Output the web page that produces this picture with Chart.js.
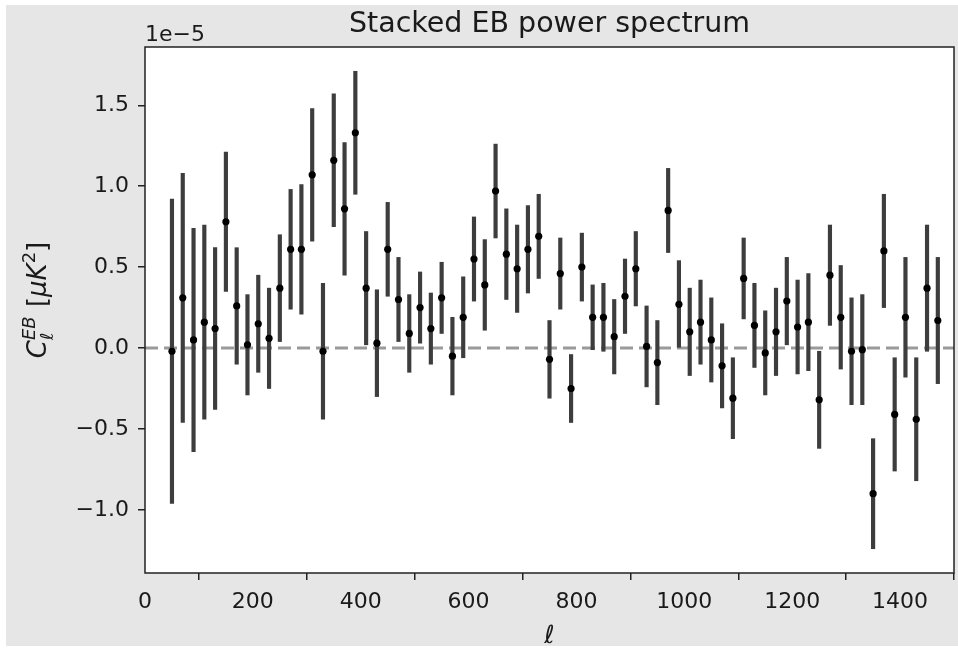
<!DOCTYPE html>
<html>
<head>
<meta charset="utf-8">
<script src="https://cdn.jsdelivr.net/npm/chart.js@4.4.1/dist/chart.umd.min.js"></script>
<style>
  html, body { margin: 0; padding: 0; background: #fff; }
  canvas { display: block; }
</style>
</head>
<body>
<canvas id="ebChart" width="958" height="651" style="width:958px;height:651px"></canvas>
<script>
// multipole bin centres
const ell = [
  50, 70, 90, 110, 130, 150, 170, 190, 210, 230, 250, 270,
  290, 310, 330, 350, 370, 390, 410, 430, 450, 470, 490, 510,
  530, 550, 570, 590, 610, 630, 650, 670, 690, 710, 730, 750,
  770, 790, 810, 830, 850, 870, 890, 910, 930, 950, 970, 990,
  1010, 1030, 1050, 1070, 1090, 1110, 1130, 1150, 1170, 1190, 1210, 1230,
  1250, 1270, 1290, 1310, 1330, 1350, 1370, 1390, 1410, 1430, 1450, 1470
];
// stacked C_l^EB, in units of 1e-5 muK^2
const clEB = [
  -0.02, 0.31, 0.05, 0.16, 0.12, 0.78, 0.26, 0.02, 0.15, 0.06, 0.37, 0.61,
  0.61, 1.07, -0.02, 1.16, 0.86, 1.33, 0.37, 0.03, 0.61, 0.30, 0.09, 0.25,
  0.12, 0.31, -0.05, 0.19, 0.55, 0.39, 0.97, 0.58, 0.49, 0.61, 0.69, -0.07,
  0.46, -0.25, 0.50, 0.19, 0.19, 0.07, 0.32, 0.49, 0.01, -0.09, 0.85, 0.27,
  0.10, 0.16, 0.05, -0.11, -0.31, 0.43, 0.14, -0.03, 0.10, 0.29, 0.13, 0.16,
  -0.32, 0.45, 0.19, -0.02, -0.01, -0.90, 0.60, -0.41, 0.19, -0.44, 0.37, 0.17
];
// 1-sigma errors, same units
const clErr = [
  0.94, 0.77, 0.69, 0.60, 0.50, 0.43, 0.36, 0.31, 0.30, 0.31, 0.33, 0.37,
  0.40, 0.41, 0.42, 0.41, 0.41, 0.38, 0.35, 0.33, 0.29, 0.26, 0.24, 0.22,
  0.22, 0.22, 0.24, 0.25, 0.26, 0.28, 0.29, 0.28, 0.27, 0.27, 0.26, 0.24,
  0.22, 0.21, 0.21, 0.20, 0.21, 0.23, 0.23, 0.23, 0.25, 0.26, 0.26, 0.27,
  0.27, 0.26, 0.26, 0.26, 0.25, 0.25, 0.26, 0.26, 0.27, 0.27, 0.29, 0.30,
  0.30, 0.31, 0.32, 0.33, 0.34, 0.34, 0.35, 0.35, 0.37, 0.38, 0.39, 0.39
];
const xTicks = [0, 200, 400, 600, 800, 1000, 1200, 1400];
const yTicks = [-1.0, -0.5, 0.0, 0.5, 1.0, 1.5];
const zeroLineX = [0, 1500];
const chartTitle = 'Stacked EB power spectrum';

const FONT = '"DejaVu Sans", sans-serif';
const TEXT = '#1a1a1a';

const fmtY = v => (v < 0 ? '\u2212' : '') + Math.abs(v).toFixed(1);

// grey figure face behind everything
const figBg = {
  id: 'figBg',
  beforeDraw(chart) {
    const c = chart.ctx;
    c.save();
    c.fillStyle = '#e6e6e6';
    c.fillRect(6, 5, chart.width - 6, 641);
    c.fillStyle = '#fff';
    const a = chart.chartArea;
    c.fillRect(a.left, a.top, a.right - a.left, a.bottom - a.top);
    c.restore();
  }
};

// axes frame, title, offset text, y label
const extras = {
  id: 'extras',
  afterDatasetsDraw(chart) {
    const c = chart.ctx, a = chart.chartArea;
    c.save();
    c.strokeStyle = '#222';
    c.lineWidth = 1.5;
    c.strokeRect(a.left, a.top, a.right - a.left, a.bottom - a.top);
    c.restore();
  },
  afterDraw(chart) {
    const c = chart.ctx, a = chart.chartArea;
    c.save();
    c.fillStyle = TEXT;

    c.font = '28.5px ' + FONT;
    c.textAlign = 'center';
    c.textBaseline = 'alphabetic';
    c.fillText(chartTitle, (a.left + a.right) / 2, 32);

    c.font = '22px ' + FONT;
    c.textAlign = 'left';
    c.fillText('1e\u22125', a.left, a.top - 6);

    // C_l^{EB} [muK^2], rotated
    const size = 26, small = 18;
    const it = s => 'italic ' + s + 'px ' + FONT;
    const up = s => s + 'px ' + FONT;
    const parts = [
      { t: 'C', f: it(size), dy: 0 },
      { t: 'EB', f: it(small), dy: -11, stack: { t: '\u2113', f: it(small), dy: 7 } },
      { t: ' [', f: up(size), dy: 0 },
      { t: '\u03bc', f: it(size), dy: 0 },
      { t: 'K', f: it(size), dy: 0 },
      { t: '2', f: up(small), dy: -11 },
      { t: ']', f: up(size), dy: 0 }
    ];
    let total = 0;
    parts.forEach(p => {
      c.font = p.f;
      let w = c.measureText(p.t).width;
      if (p.stack) { c.font = p.stack.f; w = Math.max(w, c.measureText(p.stack.t).width); }
      p.w = w + (p.t === 'EB' ? 1 : 0);
      total += p.w;
    });
    c.translate(37, (a.top + a.bottom) / 2 - 10);
    c.rotate(-Math.PI / 2);
    let x = -total / 2;
    const base = 9;
    parts.forEach(p => {
      c.font = p.f;
      c.fillText(p.t, x, base + p.dy);
      if (p.stack) { c.font = p.stack.f; c.fillText(p.stack.t, x, base + p.stack.dy); }
      x += p.w;
    });
    c.restore();
  }
};

const tickGrid = { drawOnChartArea: false, drawTicks: true, tickLength: 7, tickColor: '#222', lineWidth: 1.5 };

new Chart(document.getElementById('ebChart').getContext('2d'), {
  type: 'scatter',
  data: {
    datasets: [
      {
        label: 'EB',
        data: ell.map((l, i) => ({ x: l, y: clEB[i] })),
        backgroundColor: '#000',
        pointRadius: 3.6,
        pointBorderWidth: 0,
        order: 0
      },
      {
        type: 'bar',
        label: 'err',
        data: ell.map((l, i) => ({ x: l, y: [clEB[i] - clErr[i], clEB[i] + clErr[i]] })),
        backgroundColor: '#3d3d3d',
        borderWidth: 0,
        barThickness: 3.5,
        order: 1
      },
      {
        type: 'line',
        label: 'zero',
        data: zeroLineX.map(x => ({ x: x, y: 0 })),
        borderColor: '#9a9a9a',
        borderWidth: 3,
        borderDash: [13, 6],
        pointRadius: 0,
        fill: false,
        order: 2
      }
    ]
  },
  options: {
    responsive: false,
    animation: false,
    events: [],
    layout: { padding: { left: 0, right: 3, top: 47, bottom: 0 } },
    plugins: {
      legend: { display: false },
      tooltip: { enabled: false },
      title: { display: false }
    },
    scales: {
      x: {
        type: 'linear',
        min: 0,
        max: 1500,
        offset: false,
        afterBuildTicks: s => { s.ticks = xTicks.map(v => ({ value: v })); },
        afterFit: s => { s.height = 78; },
        ticks: {
          color: TEXT,
          font: { family: FONT, size: 22 },
          padding: 9,
          maxRotation: 0,
          autoSkip: false,
          callback: v => String(v)
        },
        grid: tickGrid,
        border: { display: false },
        title: {
          display: true,
          text: '\u2113',
          color: TEXT,
          font: { family: FONT, size: 25, style: 'italic' },
          padding: { top: 0, bottom: 0 }
        }
      },
      y: {
        type: 'linear',
        min: -1.39,
        max: 1.86,
        afterBuildTicks: s => { s.ticks = yTicks.map(v => ({ value: v })); },
        afterFit: s => { s.width = 145; },
        ticks: {
          color: TEXT,
          font: { family: FONT, size: 22 },
          padding: 9,
          autoSkip: false,
          callback: v => fmtY(v)
        },
        grid: tickGrid,
        border: { display: false }
      }
    }
  },
  plugins: [figBg, extras]
});
</script>
</body>
</html>
